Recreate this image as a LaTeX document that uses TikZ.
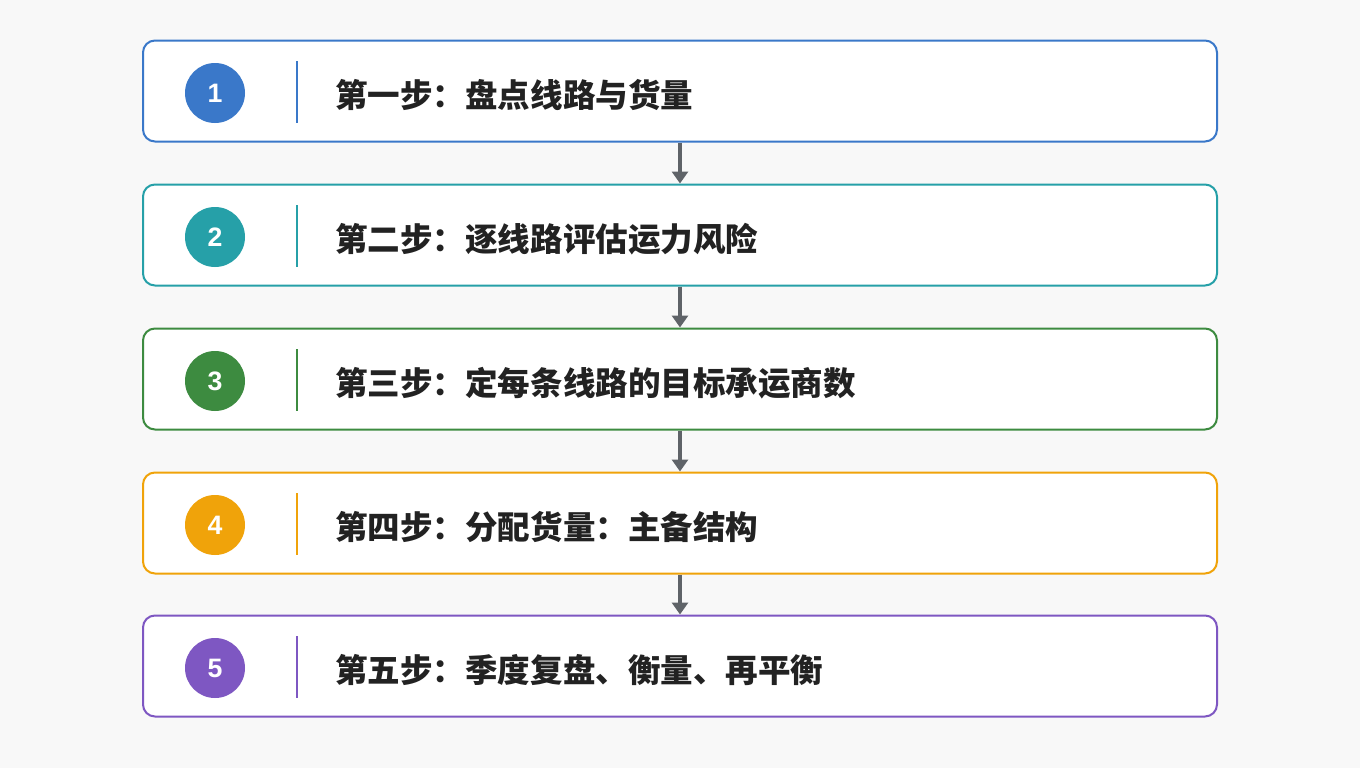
\documentclass[tikz,border=0pt]{standalone}
\usepackage{fontspec}
\setmainfont{Liberation Sans}
\newfontfamily\cjk{Noto Sans CJK SC}
\usetikzlibrary{arrows.meta}
\definecolor{c1}{HTML}{3A78C9}
\definecolor{c2}{HTML}{26A0A8}
\definecolor{c3}{HTML}{3D8B40}
\definecolor{c4}{HTML}{F0A30A}
\definecolor{c5}{HTML}{7E57C2}
\definecolor{txt}{HTML}{222222}
\definecolor{arr}{HTML}{5F6368}
\definecolor{bg}{HTML}{F8F8F8}
\begin{document}
\begin{tikzpicture}[x=0.75pt,y=-0.75pt,
  box/.style={draw=#1,line width=1.5pt,rounded corners=9pt,fill=white,minimum width=805.5pt,minimum height=75.75pt,inner sep=0pt},
  num/.style={circle,fill=#1,minimum size=45pt,inner sep=0pt,text=white,font=\bfseries\fontsize{20}{20}\selectfont},
  lbl/.style={anchor=west,text=txt,font=\cjk\bfseries\fontsize{24.4}{24.4}\selectfont,inner sep=0pt},
  link/.style={draw=arr,line width=2.8pt,-{Triangle[length=9pt,width=12pt]}}]
\fill[bg] (0,0) rectangle (1360,768);
\useasboundingbox (0,0) rectangle (1360,768);
\foreach \i/\y/\t in {1/91/第一步：盘点线路与货量,2/235/第二步：逐线路评估运力风险,3/379/第三步：定每条线路的目标承运商数,4/523/第四步：分配货量：主备结构,5/666/第五步：季度复盘、衡量、再平衡}{
  \node[box=c\i] (b\i) at (680,\y) {};
  \node[num=c\i] (n\i) at (215,\y+2) {\i};
  \draw[c\i,line width=1.3pt] (297,\y-30) -- (297,\y+32);
  \node[lbl] (t\i) at (335,\y+4) {\t};
}
\foreach \a/\b in {1/2,2/3,3/4,4/5}{\draw[link] (b\a.south) -- (b\b.north);}
\end{tikzpicture}
\end{document}
